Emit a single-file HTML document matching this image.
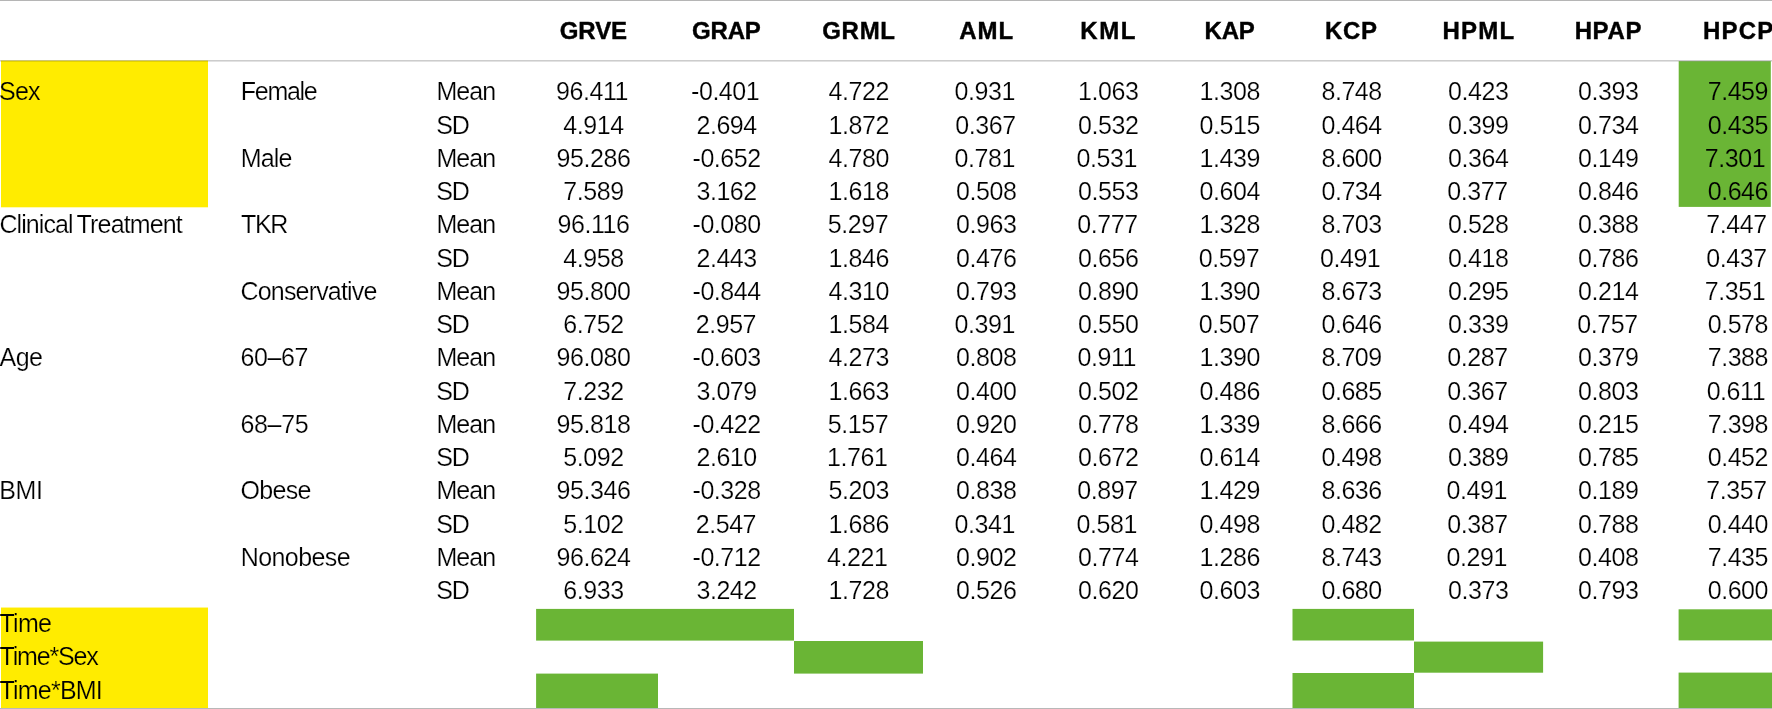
<!DOCTYPE html>
<html><head><meta charset="utf-8"><title>Table</title>
<style>
html,body{margin:0;padding:0;background:#fff;}
body{width:1772px;height:709px;position:relative;overflow:hidden;font-family:"Liberation Sans",sans-serif;color:#000;}
.tx{position:absolute;left:0;top:0;width:1772px;height:709px;overflow:hidden;will-change:transform;}
.t{position:absolute;white-space:nowrap;font-size:25px;line-height:30px;height:30px;-webkit-text-stroke:0.2px #fff;}
.oy{-webkit-text-stroke-color:#ffec00;}
.og{-webkit-text-stroke-color:#6ab535;}
.h{position:absolute;white-space:nowrap;font-size:24px;line-height:30px;height:30px;font-weight:bold;color:#000;-webkit-text-stroke:0.4px #000;}
.c{text-align:center;width:140px;letter-spacing:-0.45px;}
.r{text-align:right;width:140px;letter-spacing:-0.45px;}
.bx{position:absolute;left:0;top:0;}
.ln{position:absolute;left:0;width:1772px;}
</style></head><body>
<svg class="bx" width="1772" height="709" viewBox="0 0 1772 709">
<rect x="1" y="60.6" width="207" height="146.7" fill="#ffec00"/>
<rect x="1" y="607.55" width="207" height="100.45" fill="#ffec00"/>
<rect x="1678.7" y="61.2" width="92.1" height="145.7" fill="#6ab535"/>
<rect x="536.1" y="608.9" width="257.9" height="31.7" fill="#6ab535"/>
<rect x="794" y="641" width="129" height="32.6" fill="#6ab535"/>
<rect x="536.1" y="673.6" width="121.9" height="34.4" fill="#6ab535"/>
<rect x="1292.5" y="608.9" width="121.5" height="31.6" fill="#6ab535"/>
<rect x="1414" y="641.6" width="129.1" height="31.1" fill="#6ab535"/>
<rect x="1292.5" y="673" width="121.5" height="35" fill="#6ab535"/>
<rect x="1678.6" y="609.3" width="93.4" height="31.1" fill="#6ab535"/>
<rect x="1678.6" y="672.6" width="93.4" height="35.4" fill="#6ab535"/>
</svg>
<div class="ln" style="top:0;height:1px;background:rgba(0,0,0,.29)"></div>
<div class="ln" style="top:60px;height:1px;background:rgba(0,0,0,.2)"></div>
<div class="ln" style="top:61px;height:1px;background:rgba(0,0,0,.115)"></div>
<div class="ln" style="top:708px;height:1px;background:rgba(0,0,0,.28)"></div>
<div class="tx">
<div class="h" style="left:559.78px;top:15.78px;letter-spacing:-0.09px">GRVE</div>
<div class="h" style="left:691.98px;top:15.78px;letter-spacing:-0.17px">GRAP</div>
<div class="h" style="left:822.18px;top:15.78px;letter-spacing:0.73px">GRML</div>
<div class="h" style="left:959.33px;top:15.78px;letter-spacing:0.9px">AML</div>
<div class="h" style="left:1080.35px;top:15.78px;letter-spacing:1.49px">KML</div>
<div class="h" style="left:1204.55px;top:15.78px;letter-spacing:-0.17px">KAP</div>
<div class="h" style="left:1325.05px;top:15.78px;letter-spacing:0.68px">KCP</div>
<div class="h" style="left:1442.45px;top:15.78px;letter-spacing:1.22px">HPML</div>
<div class="h" style="left:1574.65px;top:15.78px;letter-spacing:0.64px">HPAP</div>
<div class="h" style="left:1702.95px;top:15.78px;letter-spacing:1.19px">HPCP</div>
<div class="t oy" style="left:-0.97px;top:76.39px;letter-spacing:-0.79px">Sex</div>
<div class="t" style="left:240.76px;top:76.39px;letter-spacing:-1.27px">Female</div>
<div class="t" style="left:436.46px;top:76.39px;letter-spacing:-0.92px">Mean</div>
<div class="t c" style="left:522.05px;top:76.39px">96.411</div>
<div class="t c" style="left:655.15px;top:76.39px">-0.401</div>
<div class="t c" style="left:788.7px;top:76.39px">4.722</div>
<div class="t c" style="left:914.75px;top:76.39px">0.931</div>
<div class="t c" style="left:1038.2px;top:76.39px">1.063</div>
<div class="t c" style="left:1159.7px;top:76.39px">1.308</div>
<div class="t c" style="left:1281.6px;top:76.39px">8.748</div>
<div class="t c" style="left:1408.2px;top:76.39px">0.423</div>
<div class="t c" style="left:1538.2px;top:76.39px">0.393</div>
<div class="t r og" style="left:1628px;top:76.39px">7.459</div>
<div class="t" style="left:436.13px;top:109.63px;letter-spacing:-1.14px">SD</div>
<div class="t c" style="left:523.5px;top:109.63px">4.914</div>
<div class="t c" style="left:656.6px;top:109.63px">2.694</div>
<div class="t c" style="left:788.7px;top:109.63px">1.872</div>
<div class="t c" style="left:915.5px;top:109.63px">0.367</div>
<div class="t c" style="left:1038.2px;top:109.63px">0.532</div>
<div class="t c" style="left:1159.7px;top:109.63px">0.515</div>
<div class="t c" style="left:1281.6px;top:109.63px">0.464</div>
<div class="t c" style="left:1408.2px;top:109.63px">0.399</div>
<div class="t c" style="left:1538.2px;top:109.63px">0.734</div>
<div class="t r og" style="left:1628px;top:109.63px">0.435</div>
<div class="t" style="left:240.76px;top:142.87px;letter-spacing:-0.88px">Male</div>
<div class="t" style="left:436.46px;top:142.87px;letter-spacing:-0.92px">Mean</div>
<div class="t c" style="left:523.5px;top:142.87px">95.286</div>
<div class="t c" style="left:656.6px;top:142.87px">-0.652</div>
<div class="t c" style="left:788.7px;top:142.87px">4.780</div>
<div class="t c" style="left:914.75px;top:142.87px">0.781</div>
<div class="t c" style="left:1036.75px;top:142.87px">0.531</div>
<div class="t c" style="left:1159.7px;top:142.87px">1.439</div>
<div class="t c" style="left:1281.6px;top:142.87px">8.600</div>
<div class="t c" style="left:1408.2px;top:142.87px">0.364</div>
<div class="t c" style="left:1538.2px;top:142.87px">0.149</div>
<div class="t r og" style="left:1625.1px;top:142.87px">7.301</div>
<div class="t" style="left:436.13px;top:176.11px;letter-spacing:-1.14px">SD</div>
<div class="t c" style="left:523.5px;top:176.11px">7.589</div>
<div class="t c" style="left:656.6px;top:176.11px">3.162</div>
<div class="t c" style="left:788.7px;top:176.11px">1.618</div>
<div class="t c" style="left:916.2px;top:176.11px">0.508</div>
<div class="t c" style="left:1038.2px;top:176.11px">0.553</div>
<div class="t c" style="left:1159.7px;top:176.11px">0.604</div>
<div class="t c" style="left:1281.6px;top:176.11px">0.734</div>
<div class="t c" style="left:1407.5px;top:176.11px">0.377</div>
<div class="t c" style="left:1538.2px;top:176.11px">0.846</div>
<div class="t r og" style="left:1628px;top:176.11px">0.646</div>
<div class="t" style="left:-0.61px;top:209.35px;letter-spacing:-0.9px">Clinical</div>
<div class="t" style="left:76.62px;top:209.35px;letter-spacing:-0.85px">Treatment</div>
<div class="t" style="left:240.92px;top:209.35px;letter-spacing:-1.29px">TKR</div>
<div class="t" style="left:436.46px;top:209.35px;letter-spacing:-0.92px">Mean</div>
<div class="t c" style="left:523.5px;top:209.35px">96.116</div>
<div class="t c" style="left:656.6px;top:209.35px">-0.080</div>
<div class="t c" style="left:788px;top:209.35px">5.297</div>
<div class="t c" style="left:916.2px;top:209.35px">0.963</div>
<div class="t c" style="left:1037.5px;top:209.35px">0.777</div>
<div class="t c" style="left:1159.7px;top:209.35px">1.328</div>
<div class="t c" style="left:1281.6px;top:209.35px">8.703</div>
<div class="t c" style="left:1408.2px;top:209.35px">0.528</div>
<div class="t c" style="left:1538.2px;top:209.35px">0.388</div>
<div class="t r" style="left:1626.6px;top:209.35px">7.447</div>
<div class="t" style="left:436.13px;top:242.59px;letter-spacing:-1.14px">SD</div>
<div class="t c" style="left:523.5px;top:242.59px">4.958</div>
<div class="t c" style="left:656.6px;top:242.59px">2.443</div>
<div class="t c" style="left:788.7px;top:242.59px">1.846</div>
<div class="t c" style="left:916.2px;top:242.59px">0.476</div>
<div class="t c" style="left:1038.2px;top:242.59px">0.656</div>
<div class="t c" style="left:1159px;top:242.59px">0.597</div>
<div class="t c" style="left:1280.15px;top:242.59px">0.491</div>
<div class="t c" style="left:1408.2px;top:242.59px">0.418</div>
<div class="t c" style="left:1538.2px;top:242.59px">0.786</div>
<div class="t r" style="left:1626.6px;top:242.59px">0.437</div>
<div class="t" style="left:240.49px;top:275.83px;letter-spacing:-0.82px">Conservative</div>
<div class="t" style="left:436.46px;top:275.83px;letter-spacing:-0.92px">Mean</div>
<div class="t c" style="left:523.5px;top:275.83px">95.800</div>
<div class="t c" style="left:656.6px;top:275.83px">-0.844</div>
<div class="t c" style="left:788.7px;top:275.83px">4.310</div>
<div class="t c" style="left:916.2px;top:275.83px">0.793</div>
<div class="t c" style="left:1038.2px;top:275.83px">0.890</div>
<div class="t c" style="left:1159.7px;top:275.83px">1.390</div>
<div class="t c" style="left:1281.6px;top:275.83px">8.673</div>
<div class="t c" style="left:1408.2px;top:275.83px">0.295</div>
<div class="t c" style="left:1538.2px;top:275.83px">0.214</div>
<div class="t r" style="left:1625.1px;top:275.83px">7.351</div>
<div class="t" style="left:436.13px;top:309.07px;letter-spacing:-1.14px">SD</div>
<div class="t c" style="left:523.5px;top:309.07px">6.752</div>
<div class="t c" style="left:655.9px;top:309.07px">2.957</div>
<div class="t c" style="left:788.7px;top:309.07px">1.584</div>
<div class="t c" style="left:914.75px;top:309.07px">0.391</div>
<div class="t c" style="left:1038.2px;top:309.07px">0.550</div>
<div class="t c" style="left:1159px;top:309.07px">0.507</div>
<div class="t c" style="left:1281.6px;top:309.07px">0.646</div>
<div class="t c" style="left:1408.2px;top:309.07px">0.339</div>
<div class="t c" style="left:1537.5px;top:309.07px">0.757</div>
<div class="t r" style="left:1628px;top:309.07px">0.578</div>
<div class="t" style="left:-0.48px;top:342.31px;letter-spacing:-0.56px">Age</div>
<div class="t" style="left:240.51px;top:342.31px;letter-spacing:-0.43px">60–67</div>
<div class="t" style="left:436.46px;top:342.31px;letter-spacing:-0.92px">Mean</div>
<div class="t c" style="left:523.5px;top:342.31px">96.080</div>
<div class="t c" style="left:656.6px;top:342.31px">-0.603</div>
<div class="t c" style="left:788.7px;top:342.31px">4.273</div>
<div class="t c" style="left:916.2px;top:342.31px">0.808</div>
<div class="t c" style="left:1036.75px;top:342.31px">0.911</div>
<div class="t c" style="left:1159.7px;top:342.31px">1.390</div>
<div class="t c" style="left:1281.6px;top:342.31px">8.709</div>
<div class="t c" style="left:1407.5px;top:342.31px">0.287</div>
<div class="t c" style="left:1538.2px;top:342.31px">0.379</div>
<div class="t r" style="left:1628px;top:342.31px">7.388</div>
<div class="t" style="left:436.13px;top:375.55px;letter-spacing:-1.14px">SD</div>
<div class="t c" style="left:523.5px;top:375.55px">7.232</div>
<div class="t c" style="left:656.6px;top:375.55px">3.079</div>
<div class="t c" style="left:788.7px;top:375.55px">1.663</div>
<div class="t c" style="left:916.2px;top:375.55px">0.400</div>
<div class="t c" style="left:1038.2px;top:375.55px">0.502</div>
<div class="t c" style="left:1159.7px;top:375.55px">0.486</div>
<div class="t c" style="left:1281.6px;top:375.55px">0.685</div>
<div class="t c" style="left:1407.5px;top:375.55px">0.367</div>
<div class="t c" style="left:1538.2px;top:375.55px">0.803</div>
<div class="t r" style="left:1625.1px;top:375.55px">0.611</div>
<div class="t" style="left:240.51px;top:408.79px;letter-spacing:-0.36px">68–75</div>
<div class="t" style="left:436.46px;top:408.79px;letter-spacing:-0.92px">Mean</div>
<div class="t c" style="left:523.5px;top:408.79px">95.818</div>
<div class="t c" style="left:656.6px;top:408.79px">-0.422</div>
<div class="t c" style="left:788px;top:408.79px">5.157</div>
<div class="t c" style="left:916.2px;top:408.79px">0.920</div>
<div class="t c" style="left:1038.2px;top:408.79px">0.778</div>
<div class="t c" style="left:1159.7px;top:408.79px">1.339</div>
<div class="t c" style="left:1281.6px;top:408.79px">8.666</div>
<div class="t c" style="left:1408.2px;top:408.79px">0.494</div>
<div class="t c" style="left:1538.2px;top:408.79px">0.215</div>
<div class="t r" style="left:1628px;top:408.79px">7.398</div>
<div class="t" style="left:436.13px;top:442.03px;letter-spacing:-1.14px">SD</div>
<div class="t c" style="left:523.5px;top:442.03px">5.092</div>
<div class="t c" style="left:656.6px;top:442.03px">2.610</div>
<div class="t c" style="left:787.25px;top:442.03px">1.761</div>
<div class="t c" style="left:916.2px;top:442.03px">0.464</div>
<div class="t c" style="left:1038.2px;top:442.03px">0.672</div>
<div class="t c" style="left:1159.7px;top:442.03px">0.614</div>
<div class="t c" style="left:1281.6px;top:442.03px">0.498</div>
<div class="t c" style="left:1408.2px;top:442.03px">0.389</div>
<div class="t c" style="left:1538.2px;top:442.03px">0.785</div>
<div class="t r" style="left:1628px;top:442.03px">0.452</div>
<div class="t" style="left:-0.84px;top:475.27px;letter-spacing:-0.33px">BMI</div>
<div class="t" style="left:240.55px;top:475.27px;letter-spacing:-0.71px">Obese</div>
<div class="t" style="left:436.46px;top:475.27px;letter-spacing:-0.92px">Mean</div>
<div class="t c" style="left:523.5px;top:475.27px">95.346</div>
<div class="t c" style="left:656.6px;top:475.27px">-0.328</div>
<div class="t c" style="left:788.7px;top:475.27px">5.203</div>
<div class="t c" style="left:916.2px;top:475.27px">0.838</div>
<div class="t c" style="left:1037.5px;top:475.27px">0.897</div>
<div class="t c" style="left:1159.7px;top:475.27px">1.429</div>
<div class="t c" style="left:1281.6px;top:475.27px">8.636</div>
<div class="t c" style="left:1406.75px;top:475.27px">0.491</div>
<div class="t c" style="left:1538.2px;top:475.27px">0.189</div>
<div class="t r" style="left:1626.6px;top:475.27px">7.357</div>
<div class="t" style="left:436.13px;top:508.51px;letter-spacing:-1.14px">SD</div>
<div class="t c" style="left:523.5px;top:508.51px">5.102</div>
<div class="t c" style="left:655.9px;top:508.51px">2.547</div>
<div class="t c" style="left:788.7px;top:508.51px">1.686</div>
<div class="t c" style="left:914.75px;top:508.51px">0.341</div>
<div class="t c" style="left:1036.75px;top:508.51px">0.581</div>
<div class="t c" style="left:1159.7px;top:508.51px">0.498</div>
<div class="t c" style="left:1281.6px;top:508.51px">0.482</div>
<div class="t c" style="left:1407.5px;top:508.51px">0.387</div>
<div class="t c" style="left:1538.2px;top:508.51px">0.788</div>
<div class="t r" style="left:1628px;top:508.51px">0.440</div>
<div class="t" style="left:240.76px;top:541.75px;letter-spacing:-0.59px">Nonobese</div>
<div class="t" style="left:436.46px;top:541.75px;letter-spacing:-0.92px">Mean</div>
<div class="t c" style="left:523.5px;top:541.75px">96.624</div>
<div class="t c" style="left:656.6px;top:541.75px">-0.712</div>
<div class="t c" style="left:787.25px;top:541.75px">4.221</div>
<div class="t c" style="left:916.2px;top:541.75px">0.902</div>
<div class="t c" style="left:1038.2px;top:541.75px">0.774</div>
<div class="t c" style="left:1159.7px;top:541.75px">1.286</div>
<div class="t c" style="left:1281.6px;top:541.75px">8.743</div>
<div class="t c" style="left:1406.75px;top:541.75px">0.291</div>
<div class="t c" style="left:1538.2px;top:541.75px">0.408</div>
<div class="t r" style="left:1628px;top:541.75px">7.435</div>
<div class="t" style="left:436.13px;top:574.99px;letter-spacing:-1.14px">SD</div>
<div class="t c" style="left:523.5px;top:574.99px">6.933</div>
<div class="t c" style="left:656.6px;top:574.99px">3.242</div>
<div class="t c" style="left:788.7px;top:574.99px">1.728</div>
<div class="t c" style="left:916.2px;top:574.99px">0.526</div>
<div class="t c" style="left:1038.2px;top:574.99px">0.620</div>
<div class="t c" style="left:1159.7px;top:574.99px">0.603</div>
<div class="t c" style="left:1281.6px;top:574.99px">0.680</div>
<div class="t c" style="left:1408.2px;top:574.99px">0.373</div>
<div class="t c" style="left:1538.2px;top:574.99px">0.793</div>
<div class="t r" style="left:1628px;top:574.99px">0.600</div>
<div class="t oy" style="left:-0.48px;top:608.23px;letter-spacing:-0.77px">Time</div>
<div class="t oy" style="left:-0.48px;top:641.47px;letter-spacing:-1.17px">Time*Sex</div>
<div class="t oy" style="left:-0.48px;top:674.71px;letter-spacing:-0.8px">Time*BMI</div>
</div>
</body></html>
